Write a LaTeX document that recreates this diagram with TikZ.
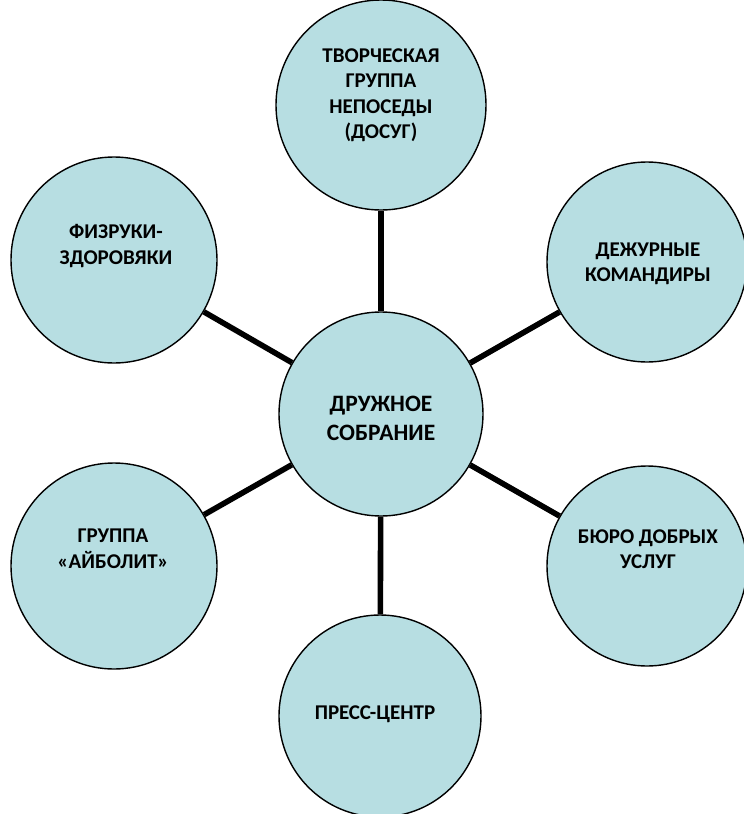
\documentclass[tikz,border=0pt]{standalone}
\usepackage{fontspec}
\setmainfont{Carlito}
\definecolor{bubble}{HTML}{B7DEE2}
\begin{document}
\begin{tikzpicture}[x=1pt,y=-1pt,
  bub/.style={circle, draw=black, line width=1.4pt, fill=bubble, inner sep=0pt},
  lbl/.style={font=\fontsize{21}{25.5}\selectfont\bfseries, align=center, inner sep=0pt},
  biglbl/.style={font=\fontsize{23.5}{29}\selectfont\bfseries, align=center, inner sep=0pt},
  link/.style={line width=5.6pt}]
\useasboundingbox (0,0) rectangle (744,814);
\clip (0,0) rectangle (744,814);
% circles
\node[bub, minimum size=204pt] (c)  at (381,414) {};
\node[bub, minimum size=210pt] (t)  at (381,105) {};
\node[bub, minimum size=206pt] (ul) at (114,260) {};
\node[bub, minimum size=200pt] (ur) at (647,262) {};
\node[bub, minimum size=206pt] (ll) at (114,566) {};
\node[bub, minimum size=200pt] (lr) at (647,566) {};
\node[bub, minimum size=202pt] (b)  at (380,716) {};
% connectors
\draw[link] (c) -- (t);
\draw[link] (c) -- (ul);
\draw[link] (c) -- (ur);
\draw[link] (c) -- (ll);
\draw[link] (c) -- (lr);
\draw[link] (c) -- (b);
% labels
\node[biglbl] (ct)  at (381,418) {ДРУЖНОЕ\\СОБРАНИЕ};
\node[lbl] (tt)  at (381,95)  {ТВОРЧЕСКАЯ\\ГРУППА\\НЕПОСЕДЫ\\(ДОСУГ)};
\node[lbl] (ult) at (116,246) {ФИЗРУКИ-\\ЗДОРОВЯКИ};
\node[lbl] (urt) at (648,264) {ДЕЖУРНЫЕ\\КОМАНДИРЫ};
\node[lbl] (llt) at (113,549) {ГРУППА\\«АЙБОЛИТ»};
\node[lbl] (lrt) at (648,549) {БЮРО ДОБРЫХ\\УСЛУГ};
\node[lbl] (bt)  at (375,714) {ПРЕСС-ЦЕНТР};
\end{tikzpicture}
\end{document}
